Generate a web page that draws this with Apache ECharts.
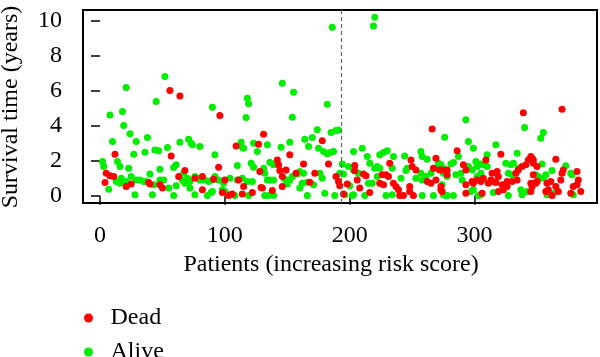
<!DOCTYPE html>
<html>
<head>
<meta charset="utf-8">
<script src="https://cdn.jsdelivr.net/npm/echarts@6/dist/echarts.min.js"></script>
<style>html,body{margin:0;padding:0;background:#fff}#c{width:600px;height:357px}</style>
</head>
<body>
<div id="c"></div>
<script>
// ---- data ----
const xTicks = [0, 100, 200, 300];
const yTicks = [0, 2, 4, 6, 8, 10];
const cutoffIndex = 193;
const seriesNames = ['Dead', 'Alive'];

const alivePoints = [
[2,1.96],[3,1.67],[7,0.38],[8,4.62],[10,3.1],[14,1.96],[16,1.67],[13,0.82],[16,0.72],[17,1.01],[18,4.81],[21,6.18],[19,4.01],[24,3.54],[29,3.1],[27,2.38],[23,1.58],[28,0.06],[25,1.1],[32,0.91],[35,0.82],[38,3.33],[36,2.49],[40,1.25],[42,0.06],[44,2.62],[47,2.57],[45,5.38],[52,6.81],[54,2.76],[48,1.52],[51,0.91],[55,0.44],[21,0.82],[29,0.91],[37,0.82],[43,0.63],[48,0.91],
[61,1.77],[59,1.62],[61,0.57],[59,0.02],[64,3.06],[71,3.23],[73,3.0],[74,2.91],[80,2.81],[90,5.06],[92,2.34],[117,4.47],[118,5.57],[119,5.25],[113,3.06],[114,2.76],[115,2.72],[123,3.0],[126,2.53],[110,1.73],[121,1.86],[123,1.63],[67,1.29],[66,0.91],[68,0.72],[70,1.01],[72,0.82],[76,1.1],[78,1.01],[80,0.91],[84,0.91],[87,0.82],[90,0.91],[92,1.1],[95,0.91],[99,0.72],[104,1.01],[110,0.91],[114,1.01],[118,0.82],[122,0.82],[76,0.06],[86,0.02],[89,0.19],[90,0.25],[98,0.34],[100,0.25],[103,0.06],[108,0.02],[119,0.02],[72,0.44],
[186,9.62],[146,6.43],[155,5.91],[182,5.23],[154,4.49],[134,2.91],[145,2.78],[152,3.06],[164,3.23],[170,3.33],[167,2.81],[174,3.77],[185,3.61],[189,3.73],[191,3.76],[175,2.72],[179,2.53],[182,2.4],[184,2.47],[187,2.53],[136,1.92],[131,1.58],[132,1.29],[139,1.77],[141,1.86],[158,1.25],[160,1.39],[163,1.29],[194,1.81],[192,1.29],[195,1.24],[176,1.29],[134,0.91],[136,0.91],[139,0.91],[148,0.95],[152,0.91],[154,1.1],[162,0.72],[166,0.78],[150,0.67],[160,0.44],[171,0.63],[132,0.02],[135,0.02],[139,0.02],[166,0.02],[180,0.15],[188,0.02],[196,0.06],[202,0.02],[200,0.57],[203,2.53],[199,1.67],[203,1.48],[178,1.01],
[220,10.19],[219,9.7],[276,3.35],[210,2.72],[214,2.24],[216,1.86],[220,1.58],[224,2.34],[227,2.47],[230,2.57],[235,2.24],[244,2.28],[257,2.53],[258,2.24],[262,2.09],[207,1.29],[215,0.72],[218,0.72],[203,0.06],[212,0.02],[222,1.67],[224,1.58],[222,1.1],[234,1.58],[229,0.02],[234,0.06],[241,1.01],[245,1.44],[246,1.58],[253,1.01],[257,1.29],[258,0.91],[261,1.1],[265,1.29],[269,1.58],[271,1.86],[275,1.29],[258,0.02],[267,0.02],[277,0.02],[274,0.63],
[340,3.9],[293,4.34],[295,3.1],[299,2.72],[317,2.91],[287,2.24],[310,2.34],[334,2.43],[305,1.82],[302,1.67],[301,1.96],[281,1.82],[283,1.9],[295,1.67],[298,1.48],[273,1.77],[275,1.58],[278,1.1],[285,1.2],[289,1.29],[290,0.91],[307,1.77],[310,1.67],[325,1.86],[329,1.77],[331,1.86],[335,1.58],[327,1.29],[330,1.2],[302,1.1],[305,1.29],[306,0.91],[303,0.02],[305,0.06],[297,0.25],[299,0.34],[315,0.19],[327,0.02],[338,0.06],[337,0.34],[342,0.25],[275,0.06],[278,0.02],[283,0.02],
[355,3.61],[353,3.29],[354,1.81],[362,1.44],[373,1.71],[377,1.29],[349,1.2],[351,1.1],[357,1.2],[355,1.01],[379,0.06],[378,1.2],[363,0.15],[358,0.06]
];

const deadPoints = [
[5,1.29],[4,0.76],[12,2.38],[11,1.1],[21,0.53],[25,0.68],[39,0.76],[40,0.68],[56,6.01],[64,5.7],[57,2.28],[48,0.63],[50,0.44],[63,1.1],[8,1.14],
[96,4.58],[131,3.52],[127,2.95],[109,2.85],[95,1.63],[128,1.39],[68,1.44],[82,1.1],[76,1.01],[91,0.95],[100,0.91],[111,0.91],[115,0.53],[129,0.47],[82,0.34],[98,0.19],[103,0.02],[106,0.11],[114,0.11],[122,0.19],[130,0.44],
[178,3.14],[152,2.34],[142,2.05],[143,1.77],[149,1.48],[144,1.44],[163,1.81],[183,1.81],[157,1.29],[189,1.1],[172,1.29],[146,1.1],[168,0.78],[191,0.82],[192,0.57],[195,0.1],[138,0.3],[146,0.53],[198,0.67],[206,0.91],
[266,3.82],[204,1.73],[204,1.43],[211,1.24],[213,1.14],[208,0.44],[216,0.19],[232,1.86],[226,1.2],[229,1.2],[231,1.1],[224,0.72],[227,0.63],[235,0.72],[237,0.53],[239,0.34],[240,0.02],[243,0.02],[249,2.05],[250,1.67],[253,1.48],[248,0.53],[248,0.25],[251,0.02],[262,0.82],[265,0.72],[267,1.58],[269,2.15],[272,1.48],[273,0.34],[269,0.91],[278,1.48],
[339,4.75],[286,2.57],[321,2.38],[345,2.24],[309,2.05],[291,1.77],[293,1.48],[274,1.48],[278,1.2],[314,1.29],[318,1.39],[319,1.1],[315,0.82],[313,0.91],[311,0.72],[317,0.76],[335,1.48],[333,1.29],[338,1.67],[341,1.77],[343,2.05],[347,2.05],[350,1.67],[326,0.82],[330,0.82],[334,0.91],[298,0.82],[299,0.72],[302,0.91],[305,0.82],[307,1.01],[306,0.15],[293,0.15],[319,0.25],[323,0.34],[322,0.63],[326,0.53],[345,0.25],[346,0.53],[347,0.72],[350,0.82],[347,1.2],[274,0.25],[273,0.53],[293,0.63],
[370,4.94],[346,2.15],[347,1.86],[365,2.09],[370,1.29],[369,0.91],[371,1.48],[382,1.39],[383,0.91],[385,0.25],[379,0.53],[382,0.63],[365,0.53],[361,0.82],[358,0.72],[357,0.25],[359,0.34],[349,0.72],[350,0.82],[345,0.72],[367,0.25],[362,0.02],[377,0.15]
];

// ---- chart ----
const FONT = 'Liberation Serif';
const chart = echarts.init(document.getElementById('c'), null, {renderer: 'canvas'});
chart.setOption({
  animation: false,
  backgroundColor: '#fff',
  grid: {left: 83, right: 3, top: 10, bottom: 154, show: true, borderColor: '#000', borderWidth: 2, backgroundColor: 'transparent'},
  xAxis: {
    type: 'value', min: -13.6, max: 398,
    axisLine: {show: false},
    splitLine: {show: false},
    axisTick: {show: true, customValues: xTicks, length: 9, lineStyle: {color: '#000', width: 1.5}},
    axisLabel: {customValues: xTicks, margin: 21, color: '#000', fontSize: 24, fontFamily: FONT}
  },
  yAxis: {
    type: 'value', min: -0.41, max: 10.61,
    axisLine: {show: false},
    splitLine: {show: false},
    axisTick: {show: true, customValues: yTicks, length: 9, lineStyle: {color: '#000', width: 1.5}},
    axisLabel: {customValues: yTicks, margin: 21, color: '#000', fontSize: 24, fontFamily: FONT}
  },
  legend: {
    data: seriesNames, orient: 'vertical', left: 79, top: 301, height: 80,
    icon: 'circle', itemWidth: 34, itemHeight: 9, itemGap: 10, selectedMode: false,
    textStyle: {fontSize: 24, lineHeight: 24, fontFamily: FONT, color: '#000', padding: 0}
  },
  graphic: [
    {type: 'text', x: 331, y: 265, style: {text: 'Patients (increasing risk score)', font: '24px "Liberation Serif"', fill: '#000', align: 'center', verticalAlign: 'middle'}},
    {type: 'text', x: 11, y: 107, rotation: Math.PI / 2, style: {text: 'Survival time (years)', font: '24px "Liberation Serif"', fill: '#000', align: 'center', verticalAlign: 'middle'}}
  ],
  series: [
    {
      name: 'Alive', type: 'scatter', data: alivePoints, symbolSize: 7,
      itemStyle: {color: '#00ee00', opacity: 1},
      markLine: {silent: true, symbol: ['none', 'none'], label: {show: false},
        lineStyle: {type: [4, 3], color: '#666', width: 1.2},
        data: [{xAxis: cutoffIndex}]}
    },
    {
      name: 'Dead', type: 'scatter', data: deadPoints, symbolSize: 7,
      itemStyle: {color: '#ff0000', opacity: 1}
    }
  ]
});
</script>
</body>
</html>
